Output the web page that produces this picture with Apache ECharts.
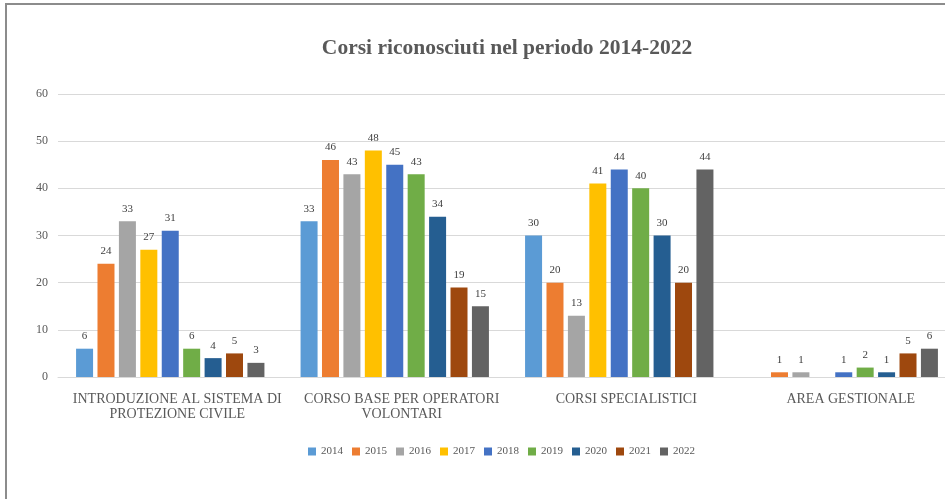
<!DOCTYPE html>
<html>
<head>
<meta charset="utf-8">
<script src="https://cdn.jsdelivr.net/npm/echarts@6/dist/echarts.min.js"></script>
<style>
html,body{margin:0;padding:0;background:#fff;}
#wrap{position:relative;width:945px;height:499px;overflow:hidden;}
#chart{position:absolute;left:0;top:0;width:970px;height:499px;}
#frame{position:absolute;left:5px;top:3px;width:960px;height:520px;border-top:2px solid #8c8c8c;border-left:2px solid #8c8c8c;pointer-events:none;}
</style>
</head>
<body>
<div id="wrap"><div id="chart"></div><div id="frame"></div></div>
<script>
const categories = ['INTRODUZIONE AL SISTEMA DI\nPROTEZIONE CIVILE', 'CORSO BASE PER OPERATORI\nVOLONTARI', 'CORSI SPECIALISTICI', 'AREA GESTIONALE'];
const years = ['2014','2015','2016','2017','2018','2019','2020','2021','2022'];
const v2014 = [6, 33, 30, null];
const v2015 = [24, 46, 20, 1];
const v2016 = [33, 43, 13, 1];
const v2017 = [27, 48, 41, null];
const v2018 = [31, 45, 44, 1];
const v2019 = [6, 43, 40, 2];
const v2020 = [4, 34, 30, 1];
const v2021 = [5, 19, 20, 5];
const v2022 = [3, 15, 44, 6];
const yTicks = [0, 10, 20, 30, 40, 50, 60];
const colors = ['#5B9BD5','#ED7D31','#A5A5A5','#FFC000','#4472C4','#70AD47','#255E91','#9E480E','#636363'];
const values = [v2014, v2015, v2016, v2017, v2018, v2019, v2020, v2021, v2022];
const FONT = '"Liberation Serif", "DejaVu Serif", serif';

const chart = echarts.init(document.getElementById('chart'), null, {renderer: 'canvas'});
chart.setOption({
  animation: false,
  color: colors,
  title: {
    text: 'Corsi riconosciuti nel periodo 2014-2022',
    left: 502, top: 32, textAlign: 'center',
    textStyle: {fontFamily: FONT, fontWeight: 'bold', fontSize: 21.5, color: '#595959'}
  },
  legend: {
    data: years,
    left: 303, top: 441,
    itemWidth: 8, itemHeight: 8, itemGap: 9,
    icon: 'rect',
    textStyle: {fontFamily: FONT, fontSize: 11, color: '#595959'}
  },
  grid: {left: 58, top: 94, width: 898, height: 283, containLabel: false},
  xAxis: {
    type: 'category',
    data: categories,
    axisLine: {lineStyle: {color: '#d9d9d9'}},
    axisTick: {show: false},
    axisLabel: {fontFamily: FONT, fontSize: 14, color: '#595959', margin: 15, lineHeight: 15, interval: 0, padding: [0, 0, 0, 14]}
  },
  yAxis: {
    type: 'value',
    min: yTicks[0], max: yTicks[yTicks.length - 1], interval: 10,
    axisLine: {show: false},
    axisTick: {show: false},
    splitLine: {lineStyle: {color: '#d9d9d9'}},
    axisLabel: {fontFamily: FONT, fontSize: 12, color: '#595959', margin: 10}
  },
  series: years.map((y, i) => ({
    name: y,
    type: 'bar',
    data: values[i],
    barWidth: 17,
    barGap: '26%',
    itemStyle: {color: colors[i]},
    label: {show: true, position: 'top', distance: 7, fontFamily: FONT, fontSize: 11, color: '#404040'}
  }))
});
</script>
</body>
</html>
